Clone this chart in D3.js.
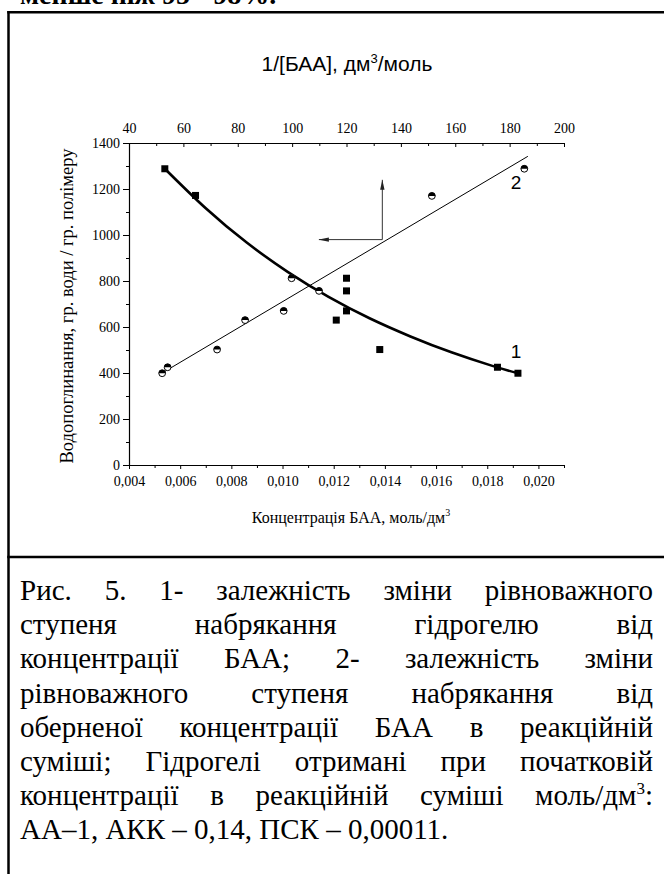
<!DOCTYPE html>
<html><head><meta charset="utf-8">
<script src="https://cdn.jsdelivr.net/npm/d3@7"></script>
</head><body style="margin:0">
<svg id="chart" width="664" height="874" font-family="Liberation Serif"></svg>
<script>
// Series 1: swelling vs BAA concentration (bottom axis)
const concBAA = [0.0054, 0.0066, 0.0125, 0.0125, 0.0125, 0.0121, 0.0138, 0.0184, 0.0192];
const swelling1 = [1288, 1172, 812, 757, 670, 630, 502, 425, 399];
// Series 2: swelling vs inverse BAA concentration (top axis)
const invBAA = [52.2, 54.2, 72.4, 82.7, 96.9, 99.8, 109.9, 151.4, 185.4];
const swelling2 = [399, 425, 502, 630, 670, 812, 757, 1170, 1288];
// Fitted decay curve for series 1 (points along the drawn fit)
const fit1Conc = [0.0054, 0.0070, 0.0086, 0.0102, 0.0118, 0.0134, 0.0150, 0.0166, 0.0182, 0.0192];
const fit1Swelling = [1288, 1116, 967, 840, 731, 638, 559, 490, 431, 399];
// Fitted straight line for series 2 (end points)
const fit2Inv = [52.2, 186.7];
const fit2Swelling = [400, 1342];
// Axis ticks
const bottomTicks = [0.004, 0.006, 0.008, 0.010, 0.012, 0.014, 0.016, 0.018, 0.020];
const bottomMinor = [0.005, 0.007, 0.009, 0.011, 0.013, 0.015, 0.017, 0.019, 0.021];
const topTicks = [40, 60, 80, 100, 120, 140, 160, 180, 200];
const topMinor = [50, 70, 90, 110, 130, 150, 170, 190];
const leftTicks = [0, 200, 400, 600, 800, 1000, 1200, 1400];
const leftMinor = [100, 300, 500, 700, 900, 1100, 1300];
// Arrow annotation (data units): origin, left target (conc), up target (swelling)
const arrowOrigin = [0.0139, 980];
const arrowLeftConc = 0.01142;
const arrowUpSwelling = 1240;

const captionLines = [
  "Рис. 5. 1- залежність зміни рівноважного",
  "ступеня набрякання гідрогелю від",
  "концентрації БАА; 2- залежність зміни",
  "рівноважного ступеня набрякання від",
  "оберненої концентрації БАА в реакційній",
  "суміші; Гідрогелі отримані при початковій",
  "концентрації в реакційній суміші моль/дм^3:",
  "АА–1, АКК – 0,14, ПСК – 0,00011."
];

const SERIF = "Liberation Serif";
const SANS = "Liberation Sans";

const svg = d3.select("#chart");

const xB = d3.scaleLinear().domain([0.004, 0.021]).range([129, 564]);
const xT = d3.scaleLinear().domain([40, 200]).range([129, 564]);
const y = d3.scaleLinear().domain([0, 1400]).range([465, 143]);

function txt(parent, fam, size) {
  return parent.append("text").attr("font-family", fam).attr("font-size", size).attr("fill", "#000");
}

// Preceding page text, mostly cut by the top edge
txt(svg, SERIF, 28).attr("x", 20).attr("y", 4).attr("font-weight", "bold")
  .text("менше ніж 95 - 98%.");

// Frame
const frame = svg.append("g").attr("stroke", "#000").attr("stroke-width", 2.5);
frame.append("line").attr("x1", 8.5).attr("x2", 8.5).attr("y1", 11).attr("y2", 874);
frame.append("line").attr("x1", 7.25).attr("x2", 664).attr("y1", 12.25).attr("y2", 12.25);
frame.append("line").attr("x1", 7.25).attr("x2", 664).attr("y1", 557).attr("y2", 557);

const fmtComma = d => d3.format(".3f")(d).replace(".", ",");

function styleAxis(g, size) {
  g.attr("font-family", SERIF).attr("font-size", size);
  g.selectAll("text").attr("fill", "#000");
  g.selectAll("line").attr("stroke", "#000");
  g.select(".domain").attr("stroke", "#000").attr("stroke-width", 1.2);
}

// Bottom axis
const gB = svg.append("g").attr("transform", "translate(0,465)");
gB.call(d3.axisBottom(xB).tickValues(bottomTicks).tickFormat(fmtComma).tickSizeInner(4).tickSizeOuter(0).tickPadding(7));
gB.append("g").call(d3.axisBottom(xB).tickValues(bottomMinor).tickFormat("").tickSizeInner(3).tickSizeOuter(0))
  .select(".domain").remove();
styleAxis(gB, 14);

// Top axis (ticks point into the plot)
const gT = svg.append("g").attr("transform", "translate(0,143)");
gT.call(d3.axisTop(xT).tickValues(topTicks).tickFormat(d3.format("d")).tickSizeInner(-4).tickSizeOuter(0).tickPadding(10));
gT.append("g").call(d3.axisTop(xT).tickValues(topMinor).tickFormat("").tickSizeInner(-3).tickSizeOuter(0))
  .select(".domain").remove();
styleAxis(gT, 14);

// Left axis
const gL = svg.append("g").attr("transform", "translate(129,0)");
gL.call(d3.axisLeft(y).tickValues(leftTicks).tickFormat(d3.format("d")).tickSizeInner(6).tickSizeOuter(0).tickPadding(3));
gL.append("g").call(d3.axisLeft(y).tickValues(leftMinor).tickFormat("").tickSizeInner(3).tickSizeOuter(0))
  .select(".domain").remove();
styleAxis(gL, 14);

// Axis titles
const topTitle = txt(svg, SANS, 21).attr("x", 347).attr("y", 71).attr("text-anchor", "middle");
topTitle.append("tspan").text("1/[БАА], дм");
topTitle.append("tspan").attr("dy", -8).attr("font-size", 13).text("3");
topTitle.append("tspan").attr("dy", 8).text("/моль");

const xTitle = txt(svg, SERIF, 16).attr("x", 351).attr("y", 523).attr("text-anchor", "middle");
xTitle.append("tspan").text("Концентрація БАА, моль/дм");
xTitle.append("tspan").attr("dy", -7).attr("font-size", 10).text("3");

txt(svg, SERIF, 18.5).attr("transform", "translate(73,306) rotate(-90)").attr("text-anchor", "middle")
  .text("Водопоглинання, гр. води / гр. полімеру");

// Fitted curves
svg.append("path")
  .datum(fit1Conc.map((c, i) => [c, fit1Swelling[i]]))
  .attr("fill", "none").attr("stroke", "#000").attr("stroke-width", 2.6)
  .attr("d", d3.line().x(d => xB(d[0])).y(d => y(d[1])).curve(d3.curveNatural));

svg.append("path")
  .datum(fit2Inv.map((v, i) => [v, fit2Swelling[i]]))
  .attr("fill", "none").attr("stroke", "#000").attr("stroke-width", 1)
  .attr("d", d3.line().x(d => xT(d[0])).y(d => y(d[1])));

// Arrow annotation
const defs = svg.append("defs");
defs.append("marker").attr("id", "arr").attr("viewBox", "0 0 10 6").attr("refX", 10).attr("refY", 3)
  .attr("markerWidth", 10).attr("markerHeight", 6).attr("markerUnits", "userSpaceOnUse").attr("orient", "auto")
  .append("path").attr("d", "M0,0.8 L10,3 L0,5.2 Z").attr("fill", "#222");
const ax0 = xB(arrowOrigin[0]), ay0 = y(arrowOrigin[1]);
svg.append("line").attr("x1", ax0).attr("y1", ay0).attr("x2", xB(arrowLeftConc)).attr("y2", ay0)
  .attr("stroke", "#333").attr("stroke-width", 1).attr("marker-end", "url(#arr)");
svg.append("line").attr("x1", ax0).attr("y1", ay0).attr("x2", ax0).attr("y2", y(arrowUpSwelling))
  .attr("stroke", "#333").attr("stroke-width", 1).attr("marker-end", "url(#arr)");

// Series 1 markers: filled squares
svg.append("g").selectAll("rect").data(concBAA.map((c, i) => [c, swelling1[i]])).join("rect")
  .attr("x", d => xB(d[0]) - 3.5).attr("y", d => y(d[1]) - 3.5)
  .attr("width", 7).attr("height", 7).attr("fill", "#000");

// Series 2 markers: half-filled circles
const r = 3.4;
const g2 = svg.append("g").selectAll("g").data(invBAA.map((v, i) => [v, swelling2[i]])).join("g")
  .attr("transform", d => `translate(${xT(d[0])},${y(d[1])})`);
g2.append("circle").attr("r", r).attr("fill", "#fff").attr("stroke", "#000").attr("stroke-width", 1);
g2.append("path").attr("d", `M${-r},0 A${r},${r} 0 0 1 ${r},0 Z`).attr("fill", "#000");

// Curve labels
txt(svg, SANS, 19).attr("x", 516).attr("y", 358).attr("text-anchor", "middle").text("1");
txt(svg, SANS, 19).attr("x", 516).attr("y", 189).attr("text-anchor", "middle").text("2");

// Caption, justified between left and right margins
const capLeft = 20, capRight = 653, capTop = 600, capStep = 34.2, capSize = 29;
captionLines.forEach((line, li) => {
  const words = line.split(" ");
  const by = capTop + li * capStep;
  const nodes = words.map(w => {
    const t = txt(svg, SERIF, capSize).attr("y", by);
    const m = w.split("^");
    t.append("tspan").text(m[0]);
    if (m.length > 1) {
      const rest = m[1];
      t.append("tspan").attr("dy", -11).attr("font-size", 17).text(rest[0]);
      t.append("tspan").attr("dy", 11).text(rest.slice(1));
    }
    return t;
  });
  const widths = nodes.map(n => n.node().getComputedTextLength());
  const total = d3.sum(widths);
  const isLast = li === captionLines.length - 1;
  const space = capSize * 0.25;
  const gap = isLast || words.length < 2 ? space : (capRight - capLeft - total) / (words.length - 1);
  let x = capLeft;
  nodes.forEach((n, i) => { n.attr("x", x); x += widths[i] + gap; });
});
</script>
</body></html>
